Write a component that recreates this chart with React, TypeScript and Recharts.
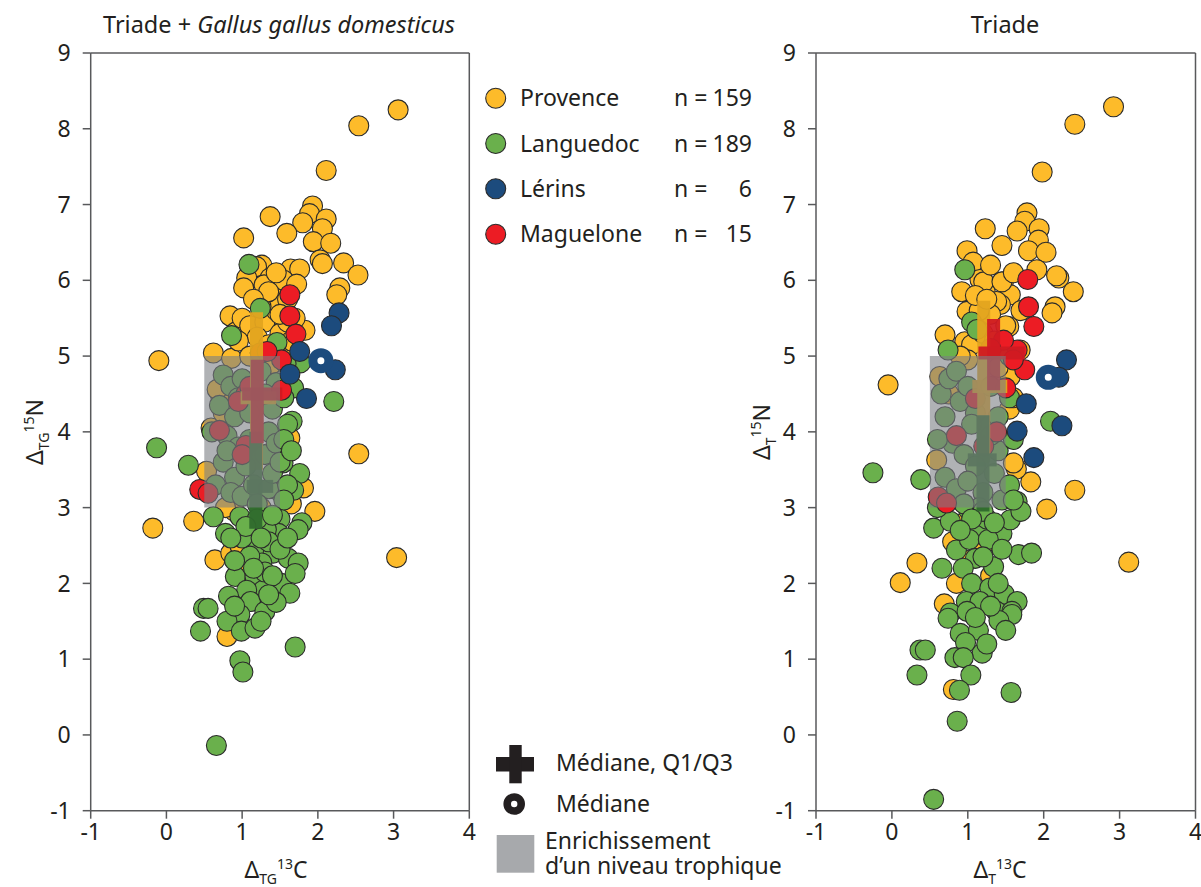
import React from 'react';
import { ScatterChart, Scatter, XAxis, YAxis, ReferenceArea, ReferenceLine } from 'recharts';

type Pt = [number, number];

const xTicks = [-1, 0, 1, 2, 3, 4];
const yTicks = [-1, 0, 1, 2, 3, 4, 5, 6, 7, 8, 9];

const regionNames = ['Provence', 'Languedoc', 'Lérins', 'Maguelone'];
const regionCounts = ['159', '189', '6', '15'];
const regionColors = ['#fdbb2a', '#6ab04c', '#1c4b7d', '#ec1c24'];
const crossColors = ['#e3a41f', '#2f6a2c', '#1c4b7d', '#d01a22'];

// Triade + Gallus gallus domesticus
const provenceTG: Pt[] = [
  [3.06, 8.25], [2.54, 8.04], [2.11, 7.45], [1.93, 6.98], [1.89, 6.88], [2.11, 6.81], [1.8, 6.76], [2.06, 6.68],
  [1.37, 6.84], [1.59, 6.62], [1.02, 6.56], [1.94, 6.51], [2.17, 6.49], [2.03, 6.27], [2.06, 6.22], [2.34, 6.23],
  [2.53, 6.07], [2.29, 5.9], [2.25, 5.81], [1.26, 6.2], [1.19, 6.18], [1.64, 6.15], [1.76, 6.15], [1.37, 6.03],
  [1.06, 6.03], [1.02, 5.9], [1.29, 5.94], [1.49, 5.87], [1.41, 5.79], [1.55, 6.0], [1.72, 5.95], [0.84, 5.53],
  [1.46, 5.52], [1.83, 5.34], [0.92, 5.32], [0.62, 5.04], [0.86, 4.97], [-0.1, 4.94], [-0.18, 2.73], [0.36, 2.82],
  [2.54, 3.71], [1.96, 2.95], [0.64, 2.31], [3.04, 2.34], [0.8, 1.3], [0.53, 3.48], [0.59, 4.05], [1.0, 5.5],
  [1.1, 5.4], [1.3, 5.45], [1.45, 5.6], [1.5, 5.3], [1.2, 5.25], [1.35, 5.15], [1.55, 5.05], [0.95, 5.2],
  [1.1, 5.0], [1.4, 4.9], [1.6, 5.45], [1.7, 5.5], [1.4, 5.7], [1.25, 5.65], [0.9, 2.95], [1.15, 2.45],
  [0.85, 2.4], [1.05, 2.2], [1.65, 3.05], [0.78, 3.0], [1.25, 3.0], [0.72, 4.45], [0.67, 4.56], [0.75, 4.25],
  [1.81, 3.26], [1.63, 3.92], [0.97, 2.5], [1.45, 6.1], [1.35, 5.85], [1.6, 5.75], [1.15, 5.75], [1.5, 5.55],
  [1.65, 5.2],
];
const languedocTG: Pt[] = [
  [-0.13, 3.79], [0.29, 3.56], [2.21, 4.4], [1.68, 4.58], [1.66, 4.14], [0.62, 2.88], [0.97, 2.88], [0.78, 2.66],
  [1.79, 2.8], [1.76, 3.45], [1.59, 3.72], [1.5, 2.85], [1.74, 2.71], [1.48, 2.66], [1.19, 2.46], [1.41, 2.4],
  [1.61, 2.33], [1.74, 2.27], [1.26, 2.27], [1.1, 2.36], [0.91, 2.09], [1.17, 2.09], [1.52, 2.0], [1.7, 2.13],
  [1.63, 1.87], [1.28, 1.91], [1.06, 1.91], [0.82, 1.83], [1.11, 1.76], [0.49, 1.67], [0.55, 1.67], [0.97, 1.59],
  [1.3, 1.63], [0.8, 1.5], [0.99, 1.37], [1.17, 1.41], [0.45, 1.37], [0.97, 0.98], [1.01, 0.83], [0.66, -0.14],
  [1.7, 1.16], [1.54, 3.59], [1.68, 3.23], [1.5, 3.21], [1.32, 2.71], [1.09, 6.21], [1.24, 5.63], [0.86, 5.27],
  [1.46, 5.18], [1.77, 4.91], [0.75, 4.75], [0.85, 4.6], [0.7, 4.35], [0.9, 4.2], [1.0, 4.7], [0.8, 3.95],
  [0.95, 3.8], [1.1, 3.9], [0.75, 3.6], [0.9, 3.4], [1.05, 3.55], [1.3, 3.7], [1.35, 4.0], [1.4, 4.3],
  [1.25, 4.8], [1.45, 4.65], [0.65, 3.3], [0.85, 3.2], [1.0, 3.15], [1.15, 3.3], [1.35, 3.25], [1.4, 3.45],
  [1.2, 3.05], [0.95, 4.45], [1.1, 4.25], [1.3, 4.5], [0.8, 3.75], [1.45, 3.85], [1.5, 3.6], [0.6, 4.0],
  [1.6, 4.1], [1.55, 3.9], [1.65, 3.75], [1.6, 3.3], [1.55, 3.1], [1.55, 4.45], [1.58, 4.9], [1.0, 2.6],
  [1.35, 2.55], [0.9, 2.3], [1.3, 2.15], [1.45, 1.75], [0.9, 1.7], [1.25, 1.5], [1.2, 2.85], [1.4, 2.9],
  [1.05, 2.75], [1.25, 2.6], [1.5, 2.45], [1.15, 2.2], [1.4, 2.1], [0.85, 2.6], [1.6, 2.6], [1.35, 1.85],
];
const lerinsTG: Pt[] = [[2.28, 5.57], [2.18, 5.4], [2.23, 4.82], [1.76, 5.06], [1.63, 4.76], [1.85, 4.44]];
const maguelonneTG: Pt[] = [
  [1.63, 5.81], [1.63, 5.53], [1.71, 5.29], [1.52, 4.95], [1.24, 5.04], [1.05, 4.5], [0.95, 4.4], [1.05, 3.82],
  [0.44, 3.24], [0.55, 3.19], [0.7, 4.02], [1.0, 3.7], [1.33, 5.06], [1.52, 4.55], [1.1, 4.6],
];
const lerinsMedianTG: Pt[] = [[2.04, 4.94]];
// median x, median y, Q1 x, Q3 x, Q1 y, Q3 y
const provenceCrossTG = [1.19, 4.45, 0.98, 1.45, 3.5, 5.58];
const languedocCrossTG = [1.18, 3.28, 1.06, 1.41, 2.72, 4.0];
const maguelonneCrossTG = [1.2, 4.5, 1.0, 1.53, 3.85, 4.95];

// Triade
const provenceT: Pt[] = [
  [2.92, 8.29], [2.41, 8.06], [1.98, 7.43], [1.78, 6.89], [1.75, 6.78], [1.23, 6.68], [1.65, 6.65], [1.94, 6.68],
  [1.93, 6.53], [1.45, 6.46], [1.8, 6.39], [2.03, 6.37], [0.99, 6.39], [1.07, 6.24], [2.2, 6.03], [2.39, 5.85],
  [1.91, 6.14], [2.17, 6.06], [1.16, 6.01], [1.47, 5.98], [0.92, 5.85], [1.23, 5.85], [1.56, 5.81], [1.43, 5.68],
  [2.15, 5.65], [2.11, 5.57], [0.99, 5.59], [0.7, 5.28], [0.96, 5.19], [1.54, 5.39], [1.69, 5.08], [1.56, 4.73],
  [-0.05, 4.62], [1.21, 5.98], [1.45, 5.98], [1.38, 5.72], [1.83, 3.34], [2.41, 3.23], [2.04, 2.98], [1.64, 3.51],
  [1.6, 3.59], [0.33, 2.27], [0.11, 2.01], [0.69, 1.73], [3.12, 2.28], [0.81, 0.6], [0.59, 3.63], [1.05, 5.15],
  [1.2, 5.3], [1.3, 5.55], [1.0, 4.95], [1.4, 4.85], [0.9, 5.0], [1.15, 5.6], [1.35, 5.2], [1.5, 5.4],
  [0.95, 2.8], [1.2, 2.5], [1.0, 2.3], [0.85, 2.0], [1.3, 2.1], [0.8, 2.55], [0.63, 4.73], [0.75, 4.5],
  [1.55, 4.3], [1.6, 4.45], [1.1, 5.8], [1.3, 6.2], [1.6, 6.1], [1.7, 5.6], [1.25, 5.75],
];
const languedocT: Pt[] = [
  [0.96, 6.14], [0.74, 5.08], [1.05, 5.45], [1.12, 5.35], [-0.25, 3.46], [0.38, 3.37], [2.09, 4.14], [0.55, 2.73],
  [0.77, 2.82], [1.01, 2.97], [1.16, 2.73], [1.45, 2.66], [1.56, 2.84], [1.65, 3.08], [0.85, 2.44], [1.02, 2.58],
  [1.27, 2.58], [1.1, 2.33], [1.34, 2.22], [0.66, 2.2], [0.94, 2.2], [1.67, 2.38], [1.84, 2.4], [1.05, 2.0],
  [1.29, 1.94], [1.48, 1.86], [1.65, 1.76], [0.98, 1.76], [1.16, 1.76], [0.77, 1.61], [0.99, 1.63], [1.38, 1.63],
  [1.58, 1.63], [0.74, 1.54], [1.58, 1.59], [1.41, 1.51], [1.5, 1.38], [0.9, 1.34], [1.14, 1.38], [0.97, 1.22],
  [1.19, 1.08], [0.83, 1.02], [0.94, 1.02], [1.04, 0.79], [0.37, 1.12], [0.44, 1.12], [0.33, 0.79], [0.89, 0.59],
  [1.57, 0.56], [0.86, 0.18], [0.55, -0.85], [0.65, 4.5], [0.75, 4.7], [0.85, 4.8], [0.9, 4.4], [0.7, 4.2],
  [1.0, 4.6], [1.1, 4.25], [0.8, 3.85], [0.95, 3.7], [1.1, 3.55], [0.7, 3.4], [0.85, 3.25], [1.0, 3.35],
  [1.2, 3.2], [1.35, 3.45], [1.4, 3.75], [1.4, 4.2], [1.3, 4.6], [1.45, 3.1], [0.6, 3.9], [1.15, 3.0],
  [0.95, 3.05], [1.3, 3.95], [1.05, 4.1], [1.55, 4.45], [1.6, 3.9], [1.55, 3.3], [1.7, 2.95], [1.55, 5.0],
  [1.6, 3.1], [0.6, 3.0], [1.25, 2.85], [1.2, 2.95], [1.35, 2.8], [1.05, 2.85], [1.45, 2.45], [1.2, 2.35],
  [0.9, 2.7], [1.3, 1.7], [1.1, 1.55], [1.25, 1.2], [1.4, 2.0],
];
const lerinsT: Pt[] = [[2.3, 4.95], [2.2, 4.72], [1.77, 4.37], [2.24, 4.08], [1.65, 4.01], [1.87, 3.66]];
const maguelonneT: Pt[] = [
  [1.79, 6.01], [1.8, 5.65], [1.87, 5.39], [1.75, 4.82], [1.65, 5.08], [1.47, 5.21], [1.5, 4.58], [0.85, 3.95],
  [1.38, 4.0], [0.61, 3.14], [0.72, 3.06], [1.1, 4.44], [1.21, 3.81], [1.6, 4.95], [1.3, 5.1],
];
const lerinsMedianT: Pt[] = [[2.06, 4.72]];
const provenceCrossT = [1.21, 4.6, 1.06, 1.52, 3.6, 5.73];
const languedocCrossT = [1.2, 3.63, 1.0, 1.38, 2.95, 4.22];
const maguelonneCrossT = [1.34, 5.04, 1.14, 1.75, 4.55, 5.49];

const INK = '#231f20';
const AXIS = '#58595b';
const FONT = '"Noto Sans", "Open Sans", sans-serif';

const toXY = (pts: Pt[]) => pts.map(([x, y]) => ({ x, y }));

const dot = (fill: string) => (p: any) => (
  <circle cx={p.cx} cy={p.cy} r={10} fill={fill} stroke="#2b2b2b" strokeWidth={1.1} />
);
const ring = (p: any) => (
  <circle cx={p.cx} cy={p.cy} r={8} fill="#ffffff" stroke={regionColors[2]} strokeWidth={9} />
);

function crossLines(c: number[], color: string, key: string) {
  const [mx, my, x1, x2, y1, y2] = c;
  return [
    <ReferenceLine key={key + 'v'} segment={[{ x: mx, y: y1 }, { x: mx, y: y2 }]} stroke={color} strokeWidth={13} strokeOpacity={0.95} zIndex={700} />,
    <ReferenceLine key={key + 'h'} segment={[{ x: x1, y: my }, { x: x2, y: my }]} stroke={color} strokeWidth={13} strokeOpacity={0.95} zIndex={700} />,
  ];
}

function Panel(props: {
  left: number; width: number; axisWidth: number; right: number;
  sets: Pt[][]; median: Pt[]; crosses: number[][];
}) {
  const { left, width, axisWidth, right, sets, median, crosses } = props;
  const order = [0, 1, 3, 2];
  return (
    <div style={{ position: 'absolute', left, top: 0 }}>
      <ScatterChart width={width} height={887} margin={{ top: 53, right, bottom: 16.3, left: 0 }}>
        <XAxis type="number" dataKey="x" domain={[-1, 4]} ticks={xTicks} interval={0} height={60}
          stroke={AXIS} strokeWidth={1.5} tickSize={8} tickMargin={5}
          tick={{ fontSize: 23, fill: INK, fontFamily: FONT }} allowDataOverflow />
        <YAxis type="number" dataKey="y" domain={[-1, 9]} ticks={yTicks} interval={0} width={axisWidth}
          stroke={AXIS} strokeWidth={1.5} tickSize={8} tickMargin={12}
          tick={{ fontSize: 23, fill: INK, fontFamily: FONT }} allowDataOverflow />
        <ReferenceLine y={9} stroke={AXIS} strokeWidth={1.5} />
        <ReferenceLine x={4} stroke={AXIS} strokeWidth={1.5} />
        {order.map((i) => (
          <Scatter key={regionNames[i]} name={regionNames[i]} data={toXY(sets[i])}
            shape={dot(regionColors[i])} isAnimationActive={false} />
        ))}
        <Scatter name="Lérins médiane" data={toXY(median)} shape={ring} isAnimationActive={false} />
        {crossLines(crosses[0], crossColors[0], 'p')}
        {crossLines(crosses[1], crossColors[1], 'l')}
        {crossLines(crosses[2], crossColors[3], 'm')}
        <ReferenceArea x1={0.5} x2={1.5} y1={3} y2={5} fill="#7c7e84" fillOpacity={0.6} stroke="none" zIndex={800} />
      </ScatterChart>
    </div>
  );
}

function Overlay() {
  const rowY = [98.3, 143.5, 188.8, 234.3];
  const sub = 14;
  return (
    <svg width={1201} height={887} style={{ position: 'absolute', left: 0, top: 0, pointerEvents: 'none' }}
      fontFamily={FONT} fill={INK}>
      <text x={279} y={33} fontSize={23.5} textAnchor="middle">
        Triade + <tspan fontStyle="italic">Gallus gallus domesticus</tspan>
      </text>
      <text x={1005} y={33} fontSize={23.5} textAnchor="middle">Triade</text>

      <text x={276} y={878} fontSize={23} textAnchor="middle">
        Δ<tspan fontSize={sub} dy={6}>TG</tspan><tspan fontSize={sub} dy={-15}>13</tspan><tspan dy={9}>C</tspan>
      </text>
      <text x={1000} y={878} fontSize={23} textAnchor="middle">
        Δ<tspan fontSize={sub} dy={6}>T</tspan><tspan fontSize={sub} dy={-15}>13</tspan><tspan dy={9}>C</tspan>
      </text>
      <text transform="translate(43,432) rotate(-90)" fontSize={23} textAnchor="middle">
        Δ<tspan fontSize={sub} dy={6}>TG</tspan><tspan fontSize={sub} dy={-15}>15</tspan><tspan dy={9}>N</tspan>
      </text>
      <text transform="translate(770,432) rotate(-90)" fontSize={23} textAnchor="middle">
        Δ<tspan fontSize={sub} dy={6}>T</tspan><tspan fontSize={sub} dy={-15}>15</tspan><tspan dy={9}>N</tspan>
      </text>

      {regionNames.map((n, i) => (
        <g key={n}>
          <circle cx={495.7} cy={rowY[i]} r={10} fill={regionColors[i]} stroke="#2b2b2b" strokeWidth={1.1} />
          <text x={520} y={rowY[i] + 8} fontSize={23}>{n}</text>
          <text x={674} y={rowY[i] + 8} fontSize={23}>n =</text>
          <text x={752} y={rowY[i] + 8} fontSize={23} textAnchor="end">{regionCounts[i]}</text>
        </g>
      ))}

      <rect x={496} y={757} width={38} height={14.5} fill={INK} />
      <rect x={509.3} y={745} width={12.4} height={38.3} fill={INK} />
      <text x={556} y={771} fontSize={23}>Médiane, Q1/Q3</text>
      <circle cx={514.2} cy={804} r={7} fill="#ffffff" stroke={INK} strokeWidth={7.6} />
      <text x={556} y={812} fontSize={23}>Médiane</text>
      <rect x={496.7} y={835} width={37.6} height={37.7} fill="#a7a9ac" />
      <text x={545} y={848.5} fontSize={23}>
        Enrichissement
        <tspan x={545} dy={25.5}>d’un niveau trophique</tspan>
      </text>
    </svg>
  );
}

export default function App() {
  return (
    <div style={{ position: 'absolute', left: 0, top: 0, width: 1201, height: 887, background: '#ffffff', fontFamily: FONT }}>
      <Panel left={0} width={480} axisWidth={90.7} right={10.7}
        sets={[provenceTG, languedocTG, lerinsTG, maguelonneTG]} median={lerinsMedianTG}
        crosses={[provenceCrossTG, languedocCrossTG, maguelonneCrossTG]} />
      <Panel left={720} width={481} axisWidth={96} right={5.5}
        sets={[provenceT, languedocT, lerinsT, maguelonneT]} median={lerinsMedianT}
        crosses={[provenceCrossT, languedocCrossT, maguelonneCrossT]} />
      <Overlay />
    </div>
  );
}
